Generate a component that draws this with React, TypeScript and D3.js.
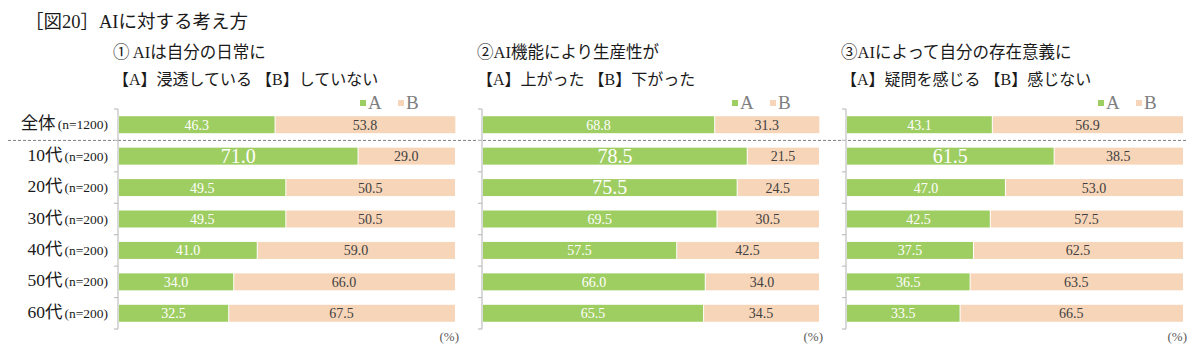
import React from 'react';
import * as d3 from 'd3';

// data
const categories = ['全体', '10代', '20代', '30代', '40代', '50代', '60代'];
const sampleSizes = ['n=1200', 'n=200', 'n=200', 'n=200', 'n=200', 'n=200', 'n=200'];
const seriesNames = ['A', 'B'];

const q1Title = ['① AIは自分の日常に', '【A】浸透している 【B】していない'];
const q1A = [46.3, 71.0, 49.5, 49.5, 41.0, 34.0, 32.5];
const q1B = [53.8, 29.0, 50.5, 50.5, 59.0, 66.0, 67.5];
const q1Big = ['10代'];

const q2Title = ['②AI機能により生産性が', '【A】上がった 【B】下がった'];
const q2A = [68.8, 78.5, 75.5, 69.5, 57.5, 66.0, 65.5];
const q2B = [31.3, 21.5, 24.5, 30.5, 42.5, 34.0, 34.5];
const q2Big = ['10代', '20代'];

const q3Title = ['③AIによって自分の存在意義に', '【A】疑問を感じる 【B】感じない'];
const q3A = [43.1, 61.5, 47.0, 42.5, 37.5, 36.5, 33.5];
const q3B = [56.9, 38.5, 53.0, 57.5, 62.5, 63.5, 66.5];
const q3Big = ['10代'];

const chartTitle = '［図20］AIに対する考え方';

const FONT = "'Liberation Serif', 'Noto Sans CJK JP', serif";
const GREEN = '#9ecd62';
const PEACH = '#f7d5b8';
const AXIS = '#bfbfbf';

const panelW = 336;
const panels = [
    { title: q1Title, a: q1A, b: q1B, big: q1Big, x0: 119, legendDx: 241 },
    { title: q2Title, a: q2A, b: q2B, big: q2Big, x0: 483, legendDx: 249 },
    { title: q3Title, a: q3A, b: q3B, big: q3Big, x0: 847, legendDx: 251 },
];

const y = d3.scaleBand<string>()
    .domain(categories)
    .range([109, 329])
    .paddingInner(0.46)
    .paddingOuter(0.23);

const x = d3.scaleLinear().domain([0, 100]).range([0, panelW]);

const step = y.step();
const bw = y.bandwidth();
const gap = step - bw;
const boundaries = categories.map(c => (y(c) as number) - gap / 2).concat([y.range()[1]]);
const dashY = (y(categories[1]) as number) - gap / 2;

const Panel = ({ p }) => {
    return (
        <g transform={`translate(${p.x0},0)`}>
            <text x={-6} y={58} fontSize={16.5} fill="#1a1a1a">{p.title[0]}</text>
            <text x={-6} y={85} fontSize={16} fill="#1a1a1a">{p.title[1]}</text>

            {seriesNames.map((s, i) => (
                <g key={s} transform={`translate(${p.legendDx + i * 38},0)`}>
                    <rect x={0} y={100} width={6} height={6} fill={i === 0 ? GREEN : PEACH} />
                    <text x={8} y={109} fontSize={19} fill="#7f7f7f">{s}</text>
                </g>
            ))}

            <line x1={-1} x2={-1} y1={y.range()[0]} y2={y.range()[1]} stroke={AXIS} strokeWidth={1.2} />
            {boundaries.map((b, i) => (
                <line key={i} x1={-5} x2={-1} y1={b} y2={b} stroke={AXIS} strokeWidth={1.2} />
            ))}

            {categories.map((c, i) => {
                const top = y(c) as number;
                const cy = top + bw / 2;
                const aw = x(p.a[i]);
                const bwid = x(p.b[i]);
                const big = p.big.includes(c);
                return (
                    <g key={c}>
                        <rect x={0} y={top} width={aw} height={bw} fill={GREEN} />
                        <rect x={aw + 1} y={top} width={Math.max(0, bwid - 1)} height={bw} fill={PEACH} />
                        <text x={aw / 2} y={cy + (big ? 6.5 : 5)} textAnchor="middle"
                            fontSize={big ? 20 : 14} fill="#ffffff">{p.a[i].toFixed(1)}</text>
                        <text x={aw + bwid / 2} y={cy + 5} textAnchor="middle"
                            fontSize={14} fill="#404040">{p.b[i].toFixed(1)}</text>
                    </g>
                );
            })}

            <text x={panelW + 4} y={341} textAnchor="end" fontSize={13} fill="#595959">(%)</text>
        </g>
    );
};

const App = () => {
    return (
        <svg width={1200} height={358} fontFamily={FONT}
            style={{ position: 'absolute', left: 0, top: 0, display: 'block', background: '#fff' }}>
            <text x={25} y={28} fontSize={18.5} fill="#1a1a1a">{chartTitle}</text>

            {categories.map((c, i) => {
                const cy = (y(c) as number) + bw / 2;
                return (
                    <text key={c} x={108} y={cy + 4.5} textAnchor="end" fill="#1a1a1a">
                        <tspan fontSize={17.5}>{c}</tspan>
                        <tspan fontSize={13.5} dx={2}>({sampleSizes[i]})</tspan>
                    </text>
                );
            })}

            <line x1={8} x2={1187} y1={dashY} y2={dashY} stroke="#7f7f7f" strokeWidth={1} strokeDasharray="3,2" />

            {panels.map((p, i) => <Panel key={i} p={p} />)}
        </svg>
    );
};

export default App;
